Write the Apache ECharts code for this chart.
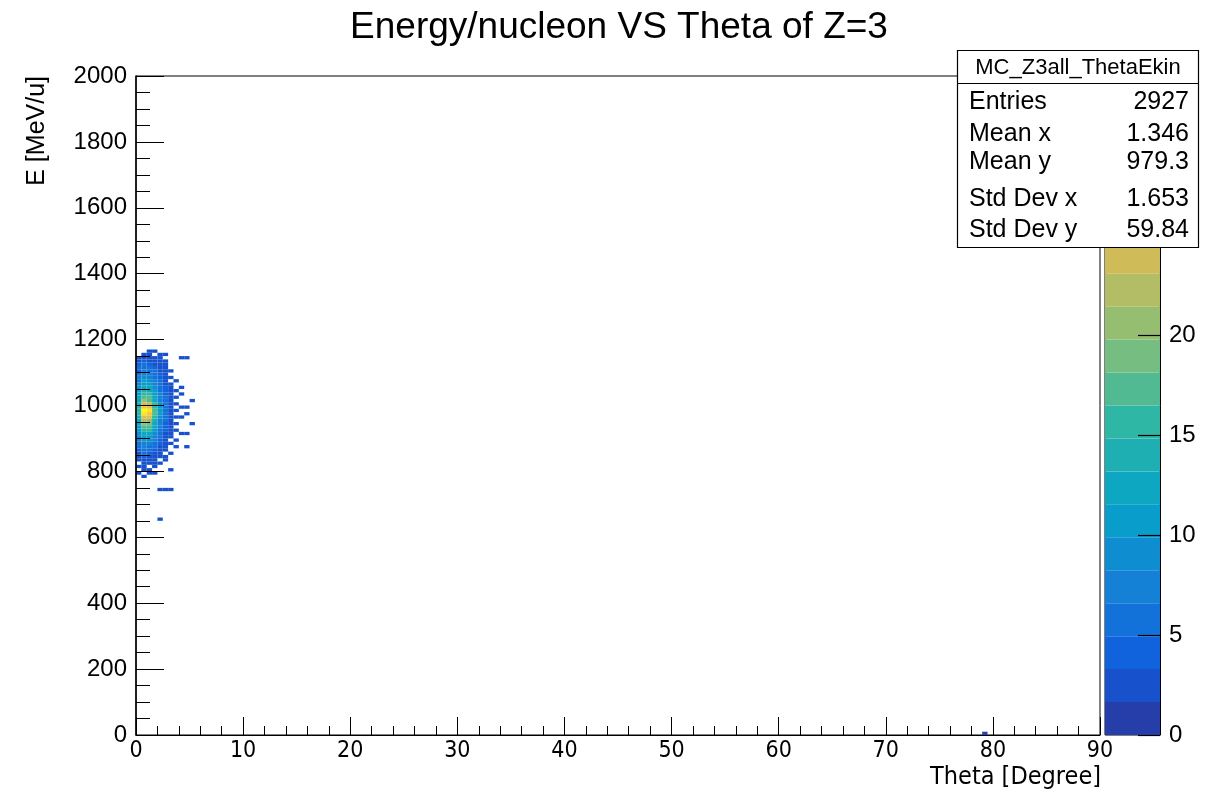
<!DOCTYPE html>
<html>
<head>
<meta charset="utf-8">
<script src="https://cdn.jsdelivr.net/npm/echarts@6/dist/echarts.min.js"></script>
<style>
  html, body { margin: 0; padding: 0; background: #fff; }
  #main { width: 1217px; height: 794px; }
</style>
</head>
<body>
<div id="main"></div>
<script>
// binning of the 2D histogram (theta in degree, energy in MeV/u)
var thetaBin = 0.5;
var energyBin = 10;
var zMax = 33;
var nLevels = 20;

// counts per energy row, top row first; columns are theta bins 0-0.5, 0.5-1.0, ... 5.0-5.5
var energyRowsTop = 1160;
var countRows = [
  [0, 0, 2, 2, 0, 0, 0, 0, 0, 0, 0],
  [0, 2, 2, 0, 2, 2, 0, 0, 0, 0, 0],
  [2, 3, 2, 3, 2, 0, 0, 0, 2, 2, 0],
  [3, 4, 3, 2, 3, 2, 0, 0, 0, 0, 0],
  [4, 5, 4, 3, 2, 2, 0, 0, 0, 0, 0],
  [5, 6, 5, 4, 3, 2, 0, 0, 0, 0, 0],
  [4, 7, 6, 5, 3, 2, 2, 0, 0, 0, 0],
  [6, 8, 7, 5, 4, 2, 0, 0, 0, 0, 0],
  [7, 9, 8, 6, 4, 3, 2, 0, 0, 0, 0],
  [6, 10, 9, 7, 5, 3, 0, 2, 0, 0, 0],
  [8, 11, 10, 8, 5, 3, 2, 0, 0, 0, 0],
  [9, 13, 12, 9, 6, 4, 2, 0, 2, 0, 0],
  [10, 14, 13, 10, 6, 4, 2, 2, 0, 0, 0],
  [11, 16, 15, 11, 7, 4, 3, 0, 2, 0, 0],
  [12, 18, 17, 12, 8, 5, 3, 2, 0, 0, 0],
  [13, 20, 18, 13, 8, 5, 3, 0, 0, 0, 2],
  [14, 24, 22, 15, 9, 5, 3, 2, 0, 0, 0],
  [15, 28, 26, 16, 10, 6, 3, 0, 2, 2, 0],
  [16, 33, 30, 18, 10, 6, 3, 2, 0, 0, 0],
  [15, 31, 28, 17, 10, 6, 3, 0, 0, 2, 0],
  [14, 26, 25, 15, 9, 5, 3, 2, 2, 0, 0],
  [13, 22, 21, 14, 8, 5, 3, 0, 0, 0, 0],
  [12, 20, 19, 13, 8, 4, 2, 2, 0, 0, 2],
  [11, 18, 17, 12, 7, 4, 2, 0, 0, 0, 0],
  [10, 16, 15, 10, 6, 4, 2, 2, 0, 0, 0],
  [9, 13, 12, 9, 5, 3, 2, 0, 2, 2, 0],
  [8, 11, 10, 8, 5, 3, 2, 0, 0, 0, 0],
  [7, 10, 9, 7, 4, 3, 0, 2, 0, 0, 0],
  [6, 8, 8, 6, 4, 2, 2, 0, 0, 0, 0],
  [5, 7, 6, 5, 3, 2, 0, 2, 0, 2, 0],
  [4, 6, 5, 4, 3, 2, 0, 0, 0, 0, 0],
  [3, 5, 4, 3, 2, 0, 2, 0, 0, 0, 0],
  [3, 4, 3, 3, 2, 2, 0, 0, 0, 0, 0],
  [2, 3, 3, 2, 0, 2, 0, 0, 0, 0, 0],
  [0, 2, 3, 2, 2, 0, 0, 0, 0, 0, 0],
  [2, 2, 0, 2, 0, 0, 0, 0, 0, 0, 0],
  [0, 2, 2, 0, 0, 0, 2, 0, 0, 0, 0],
  [2, 0, 2, 2, 0, 0, 0, 0, 0, 0, 0],
  [0, 2, 0, 0, 0, 0, 0, 0, 0, 0, 0],
  [0, 0, 0, 0, 0, 0, 0, 0, 0, 0, 0],
  [0, 0, 0, 0, 0, 0, 0, 0, 0, 0, 0],
  [0, 0, 0, 0, 0, 0, 0, 0, 0, 0, 0],
  [0, 0, 0, 0, 2, 2, 2, 0, 0, 0, 0]
];
// isolated entries: [theta low edge, energy low edge, count]
var strayCells = [
  [2.0, 650, 2],
  [79.0, 0, 1]
];

var statsTitle = 'MC_Z3all_ThetaEkin';
var statsLabels = ['Entries', 'Mean x', 'Mean y', 'Std Dev x', 'Std Dev y'];
var statsValues = ['2927', '1.346', '979.3', '1.653', '59.84'];

// ROOT kBird palette
var birdStops = [0, 0.125, 0.25, 0.375, 0.5, 0.625, 0.75, 0.875, 1];
var birdRGB = [
  [0.2082, 0.1664, 0.5293], [0.0592, 0.3599, 0.8684], [0.0780, 0.5041, 0.8385],
  [0.0232, 0.6419, 0.7914], [0.1802, 0.7178, 0.6425], [0.5301, 0.7492, 0.4662],
  [0.8186, 0.7328, 0.3499], [0.9956, 0.7862, 0.1968], [0.9764, 0.9832, 0.0539]
];

function birdAt(f) {
  f = Math.max(0, Math.min(1, f));
  var i = 0;
  while (i < birdStops.length - 2 && f > birdStops[i + 1]) i++;
  var t = (f - birdStops[i]) / (birdStops[i + 1] - birdStops[i]);
  var c = birdRGB[i].map(function (a, k) {
    return Math.round(255 * (a + (birdRGB[i + 1][k] - a) * t));
  });
  return 'rgb(' + c.join(',') + ')';
}

function levelColor(level) {
  return birdAt((level + 0.99) / nLevels);
}

function countColor(v) {
  var level = Math.floor(0.01 + v * nLevels / zMax);
  if (level > nLevels - 1) level = nLevels - 1;
  return levelColor(level);
}

var cells = [];
countRows.forEach(function (row, r) {
  row.forEach(function (v, c) {
    if (v > 0) cells.push([c * thetaBin, energyRowsTop - r * energyBin, v]);
  });
});
strayCells.forEach(function (s) { cells.push(s); });

var bands = [];
for (var b = 0; b < nLevels; b++) bands.push([0, b]);

var font = "'Liberation Sans', Helvetica, Arial, sans-serif";
var narrowFont = "'Liberation Sans Narrow', 'DejaVu Sans Condensed', 'Liberation Sans', sans-serif";

var chart = echarts.init(document.getElementById('main'));

// stats box edges
var boxL = 957.5, boxT = 50.5, boxR = 1198.5, boxB = 247.5;

var graphics = [
  {
    type: 'text', x: 619, y: 28, z: 100,
    style: { text: 'Energy/nucleon VS Theta of Z=3', font: '37px ' + font, fill: '#000', align: 'center', verticalAlign: 'middle' }
  },
  {
    type: 'text', x: 37, y: 76, rotation: Math.PI / 2, z: 100,
    style: { text: 'E [MeV/u]', font: '25px ' + font, fill: '#000', align: 'right', verticalAlign: 'middle' }
  },
  {
    type: 'text', x: 1101, y: 777, z: 100,
    style: { text: 'Theta [Degree]', font: '25px ' + narrowFont, fill: '#000', align: 'right', verticalAlign: 'middle' }
  },
  {
    type: 'rect', z: 100,
    shape: { x: boxL, y: boxT, width: boxR - boxL, height: boxB - boxT },
    style: { fill: '#fff', stroke: '#000', lineWidth: 1.2 }
  },
  {
    type: 'line', z: 101,
    shape: { x1: boxL, y1: 83.5, x2: boxR, y2: 83.5 },
    style: { stroke: '#000', lineWidth: 1.2 }
  },
  {
    type: 'text', x: (boxL + boxR) / 2, y: 68, z: 101,
    style: { text: statsTitle, font: '22px ' + font, fill: '#000', align: 'center', verticalAlign: 'middle' }
  }
];
var rowY = [102, 134, 162, 199, 230];
statsLabels.forEach(function (lab, i) {
  graphics.push({
    type: 'text', x: 969, y: rowY[i], z: 101,
    style: { text: lab, font: '25px ' + font, fill: '#000', align: 'left', verticalAlign: 'middle' }
  });
  graphics.push({
    type: 'text', x: 1189, y: rowY[i], z: 101,
    style: { text: statsValues[i], font: '25px ' + font, fill: '#000', align: 'right', verticalAlign: 'middle' }
  });
});

function plain(v) { return String(v); }

var option = {
  backgroundColor: '#fff',
  animation: false,
  grid: [
    { left: 136, right: 117, top: 76, bottom: 59, show: true, borderColor: '#000', borderWidth: 1, backgroundColor: 'transparent' },
    { left: 1105, width: 55, top: 76, bottom: 59, show: true, borderColor: '#000', borderWidth: 1, backgroundColor: 'transparent' }
  ],
  xAxis: [
    {
      type: 'value', gridIndex: 0, min: 0, max: 90, interval: 10, z: 10,
      axisLine: { show: true, onZero: false, lineStyle: { color: '#000', width: 1 } },
      axisTick: { show: true, inside: true, length: 18, lineStyle: { color: '#000' } },
      minorTick: { show: true, splitNumber: 5, length: 9, lineStyle: { color: '#000' } },
      splitLine: { show: false },
      axisLabel: { color: '#000', fontSize: 23, fontFamily: narrowFont, margin: 5,
        formatter: plain, showMinLabel: true, showMaxLabel: true }
    },
    { type: 'value', gridIndex: 1, min: 0, max: 1, show: false }
  ],
  yAxis: [
    {
      type: 'value', gridIndex: 0, min: 0, max: 2000, interval: 200, z: 10,
      axisLine: { show: true, onZero: false, lineStyle: { color: '#000', width: 1.5 } },
      axisTick: { show: true, inside: true, length: 28, lineStyle: { color: '#000' } },
      minorTick: { show: true, splitNumber: 4, length: 14, lineStyle: { color: '#000' } },
      splitLine: { show: false },
      axisLabel: { color: '#000', fontSize: 24, fontFamily: font, margin: 9,
        formatter: plain, showMinLabel: true, showMaxLabel: true }
    },
    {
      type: 'value', gridIndex: 1, position: 'right', min: 0, max: zMax, interval: 5, z: 10,
      axisLine: { show: true, onZero: false, lineStyle: { color: '#000', width: 1 } },
      axisTick: { show: true, inside: true, length: 22, lineStyle: { color: '#000', width: 1.2 } },
      splitLine: { show: false },
      axisLabel: { color: '#000', fontSize: 24, fontFamily: font, margin: 9,
        formatter: plain, showMaxLabel: false }
    }
  ],
  series: [
    {
      type: 'custom',
      name: 'hist',
      xAxisIndex: 0,
      yAxisIndex: 0,
      clip: true,
      data: cells,
      renderItem: function (params, api) {
        var x0 = api.value(0), y0 = api.value(1);
        var p0 = api.coord([x0, y0]);
        var p1 = api.coord([x0 + thetaBin, y0 + energyBin]);
        return {
          type: 'rect',
          shape: { x: p0[0], y: p1[1], width: p1[0] - p0[0], height: p0[1] - p1[1] },
          style: { fill: countColor(api.value(2)) }
        };
      }
    },
    {
      type: 'custom',
      name: 'palette',
      xAxisIndex: 1,
      yAxisIndex: 1,
      z: 1,
      data: bands,
      renderItem: function (params, api) {
        var lvl = api.value(1);
        var lo = api.coord([0, lvl * zMax / nLevels]);
        var hi = api.coord([1, (lvl + 1) * zMax / nLevels]);
        return {
          type: 'rect',
          shape: { x: lo[0], y: hi[1], width: hi[0] - lo[0], height: lo[1] - hi[1] },
          style: { fill: levelColor(lvl) }
        };
      }
    }
  ],
  graphic: graphics
};

chart.setOption(option);
</script>
</body>
</html>
